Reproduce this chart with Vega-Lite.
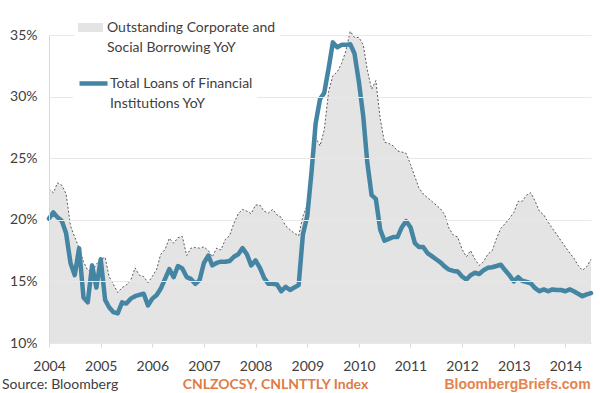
{
  "$schema": "https://vega.github.io/schema/vega-lite/v6.json",
  "width": 542,
  "height": 308,
  "autosize": {"type": "none"},
  "padding": {"left": 49, "top": 35, "right": 9, "bottom": 50},
  "background": "white",
  "title": {
    "text": "Source: Bloomberg",
    "orient": "bottom",
    "anchor": "start",
    "frame": "group",
    "dx": -47,
    "dy": -13,
    "offset": 0,
    "font": "Lato",
    "fontSize": 14,
    "fontWeight": "normal",
    "color": "#404040"
  },
  "config": {
    "view": {"stroke": null},
    "style": {"guide-label": {"lineHeight": 20}}
  },
  "data": {"values": [
    {"date":"2004-01-01","borrowing":22.5,"loans":20.1},
    {"date":"2004-02-01","borrowing":22.2,"loans":20.6},
    {"date":"2004-03-01","borrowing":23.0,"loans":20.2},
    {"date":"2004-04-01","borrowing":22.8,"loans":19.9},
    {"date":"2004-05-01","borrowing":22.1,"loans":18.9},
    {"date":"2004-06-01","borrowing":19.5,"loans":16.5},
    {"date":"2004-07-01","borrowing":18.6,"loans":15.5},
    {"date":"2004-08-01","borrowing":17.7,"loans":17.7},
    {"date":"2004-09-01","borrowing":16.6,"loans":13.7},
    {"date":"2004-10-01","borrowing":15.9,"loans":13.3},
    {"date":"2004-11-01","borrowing":15.8,"loans":16.3},
    {"date":"2004-12-01","borrowing":16.4,"loans":14.5},
    {"date":"2005-01-01","borrowing":16.8,"loans":16.8},
    {"date":"2005-02-01","borrowing":16.95,"loans":13.5},
    {"date":"2005-03-01","borrowing":15.4,"loans":12.9},
    {"date":"2005-04-01","borrowing":14.75,"loans":12.5},
    {"date":"2005-05-01","borrowing":14.1,"loans":12.4},
    {"date":"2005-06-01","borrowing":14.5,"loans":13.3},
    {"date":"2005-07-01","borrowing":14.7,"loans":13.2},
    {"date":"2005-08-01","borrowing":15.1,"loans":13.6},
    {"date":"2005-09-01","borrowing":16.1,"loans":13.8},
    {"date":"2005-10-01","borrowing":15.5,"loans":13.9},
    {"date":"2005-11-01","borrowing":15.4,"loans":14.0},
    {"date":"2005-12-01","borrowing":14.9,"loans":13.05},
    {"date":"2006-01-01","borrowing":15.4,"loans":13.6},
    {"date":"2006-02-01","borrowing":16.0,"loans":13.9},
    {"date":"2006-03-01","borrowing":17.2,"loans":14.4},
    {"date":"2006-04-01","borrowing":17.6,"loans":15.2},
    {"date":"2006-05-01","borrowing":18.5,"loans":16.0},
    {"date":"2006-06-01","borrowing":18.1,"loans":15.35},
    {"date":"2006-07-01","borrowing":18.55,"loans":16.25},
    {"date":"2006-08-01","borrowing":18.65,"loans":16.05},
    {"date":"2006-09-01","borrowing":17.1,"loans":15.35},
    {"date":"2006-10-01","borrowing":17.7,"loans":15.2},
    {"date":"2006-11-01","borrowing":17.75,"loans":14.8},
    {"date":"2006-12-01","borrowing":17.7,"loans":15.1},
    {"date":"2007-01-01","borrowing":17.8,"loans":16.5},
    {"date":"2007-02-01","borrowing":17.5,"loans":17.1},
    {"date":"2007-03-01","borrowing":17.0,"loans":16.3},
    {"date":"2007-04-01","borrowing":17.7,"loans":16.5},
    {"date":"2007-05-01","borrowing":17.55,"loans":16.6},
    {"date":"2007-06-01","borrowing":18.4,"loans":16.6},
    {"date":"2007-07-01","borrowing":18.7,"loans":16.65},
    {"date":"2007-08-01","borrowing":19.7,"loans":17.0},
    {"date":"2007-09-01","borrowing":20.5,"loans":17.2},
    {"date":"2007-10-01","borrowing":20.85,"loans":17.7},
    {"date":"2007-11-01","borrowing":20.7,"loans":17.2},
    {"date":"2007-12-01","borrowing":20.5,"loans":16.3},
    {"date":"2008-01-01","borrowing":21.2,"loans":16.7},
    {"date":"2008-02-01","borrowing":21.2,"loans":16.1},
    {"date":"2008-03-01","borrowing":20.7,"loans":15.3},
    {"date":"2008-04-01","borrowing":20.55,"loans":14.8},
    {"date":"2008-05-01","borrowing":20.85,"loans":14.8},
    {"date":"2008-06-01","borrowing":20.4,"loans":14.75},
    {"date":"2008-07-01","borrowing":20.2,"loans":14.2},
    {"date":"2008-08-01","borrowing":19.5,"loans":14.55},
    {"date":"2008-09-01","borrowing":19.2,"loans":14.3},
    {"date":"2008-10-01","borrowing":18.9,"loans":14.5},
    {"date":"2008-11-01","borrowing":18.7,"loans":14.7},
    {"date":"2008-12-01","borrowing":20.3,"loans":18.8},
    {"date":"2009-01-01","borrowing":21.2,"loans":20.3},
    {"date":"2009-02-01","borrowing":23.8,"loans":24.0},
    {"date":"2009-03-01","borrowing":26.7,"loans":27.8},
    {"date":"2009-04-01","borrowing":26.0,"loans":29.8},
    {"date":"2009-05-01","borrowing":27.3,"loans":30.3},
    {"date":"2009-06-01","borrowing":30.4,"loans":32.3},
    {"date":"2009-07-01","borrowing":31.7,"loans":34.4},
    {"date":"2009-08-01","borrowing":32.0,"loans":34.0},
    {"date":"2009-09-01","borrowing":32.7,"loans":34.2},
    {"date":"2009-10-01","borrowing":33.7,"loans":34.2},
    {"date":"2009-11-01","borrowing":35.3,"loans":34.25},
    {"date":"2009-12-01","borrowing":34.8,"loans":33.5},
    {"date":"2010-01-01","borrowing":34.8,"loans":31.2},
    {"date":"2010-02-01","borrowing":34.2,"loans":28.4},
    {"date":"2010-03-01","borrowing":32.2,"loans":24.7},
    {"date":"2010-04-01","borrowing":30.6,"loans":22.0},
    {"date":"2010-05-01","borrowing":31.3,"loans":21.7},
    {"date":"2010-06-01","borrowing":28.2,"loans":19.2},
    {"date":"2010-07-01","borrowing":26.3,"loans":18.3},
    {"date":"2010-08-01","borrowing":26.2,"loans":18.45},
    {"date":"2010-09-01","borrowing":26.0,"loans":18.6},
    {"date":"2010-10-01","borrowing":25.6,"loans":18.6},
    {"date":"2010-11-01","borrowing":25.5,"loans":19.4},
    {"date":"2010-12-01","borrowing":25.4,"loans":19.9},
    {"date":"2011-01-01","borrowing":24.5,"loans":19.4},
    {"date":"2011-02-01","borrowing":23.5,"loans":18.1},
    {"date":"2011-03-01","borrowing":22.6,"loans":17.8},
    {"date":"2011-04-01","borrowing":22.1,"loans":17.8},
    {"date":"2011-05-01","borrowing":21.8,"loans":17.3},
    {"date":"2011-06-01","borrowing":21.5,"loans":17.05},
    {"date":"2011-07-01","borrowing":21.2,"loans":16.8},
    {"date":"2011-08-01","borrowing":20.9,"loans":16.55},
    {"date":"2011-09-01","borrowing":20.4,"loans":16.2},
    {"date":"2011-10-01","borrowing":19.3,"loans":15.95},
    {"date":"2011-11-01","borrowing":18.75,"loans":15.85},
    {"date":"2011-12-01","borrowing":18.6,"loans":15.8},
    {"date":"2012-01-01","borrowing":17.6,"loans":15.4},
    {"date":"2012-02-01","borrowing":17.0,"loans":15.15},
    {"date":"2012-03-01","borrowing":17.5,"loans":15.5},
    {"date":"2012-04-01","borrowing":16.8,"loans":15.7},
    {"date":"2012-05-01","borrowing":16.3,"loans":15.6},
    {"date":"2012-06-01","borrowing":16.6,"loans":15.9},
    {"date":"2012-07-01","borrowing":17.2,"loans":16.1},
    {"date":"2012-08-01","borrowing":17.5,"loans":16.15},
    {"date":"2012-09-01","borrowing":18.5,"loans":16.25},
    {"date":"2012-10-01","borrowing":19.3,"loans":16.35},
    {"date":"2012-11-01","borrowing":19.7,"loans":15.9},
    {"date":"2012-12-01","borrowing":20.1,"loans":15.5},
    {"date":"2013-01-01","borrowing":20.6,"loans":15.0},
    {"date":"2013-02-01","borrowing":21.5,"loans":15.35},
    {"date":"2013-03-01","borrowing":21.5,"loans":15.05},
    {"date":"2013-04-01","borrowing":22.0,"loans":14.95},
    {"date":"2013-05-01","borrowing":22.2,"loans":14.85},
    {"date":"2013-06-01","borrowing":21.5,"loans":14.45},
    {"date":"2013-07-01","borrowing":20.7,"loans":14.2},
    {"date":"2013-08-01","borrowing":20.4,"loans":14.35},
    {"date":"2013-09-01","borrowing":19.8,"loans":14.2},
    {"date":"2013-10-01","borrowing":19.3,"loans":14.35},
    {"date":"2013-11-01","borrowing":18.8,"loans":14.3},
    {"date":"2013-12-01","borrowing":18.3,"loans":14.3},
    {"date":"2014-01-01","borrowing":17.8,"loans":14.2},
    {"date":"2014-02-01","borrowing":17.3,"loans":14.35},
    {"date":"2014-03-01","borrowing":16.9,"loans":14.2},
    {"date":"2014-04-01","borrowing":16.3,"loans":14.0},
    {"date":"2014-05-01","borrowing":15.9,"loans":13.8},
    {"date":"2014-06-01","borrowing":16.2,"loans":13.95},
    {"date":"2014-07-01","borrowing":16.8,"loans":14.05}
  ]},
  "encoding": {
    "x": {
      "field": "date",
      "type": "temporal",
      "scale": {
        "type": "utc",
        "domain": [{"year": 2004, "month": 1, "date": 1, "utc": true}, {"year": 2014, "month": 7, "date": 1, "utc": true}]
      },
      "axis": {
        "title": "CNLZOCSY, CNLNTTLY Index",
        "titleColor": "#e07b45",
        "titleFont": "Lato",
        "titleFontSize": 14,
        "titleFontWeight": "bold",
        "titleX": 226,
        "titleY": 41,
        "titleAlign": "center",
        "titleBaseline": "middle",
        "titleAnchor": null,
        "format": "%Y",
        "values": [
          {"year": 2004, "utc": true}, {"year": 2005, "utc": true}, {"year": 2006, "utc": true},
          {"year": 2007, "utc": true}, {"year": 2008, "utc": true}, {"year": 2009, "utc": true},
          {"year": 2010, "utc": true}, {"year": 2011, "utc": true}, {"year": 2012, "utc": true},
          {"year": 2013, "utc": true}, {"year": 2014, "utc": true}
        ],
        "grid": false,
        "domainColor": "#d9d9d9",
        "tickColor": "#d9d9d9",
        "tickSize": 4,
        "labelFont": "Lato",
        "labelFontSize": 14,
        "labelColor": "#404040",
        "labelPadding": 12,
        "labelFlush": false,
        "labelOverlap": false
      }
    }
  },
  "layer": [
    {
      "mark": {"type": "area", "interpolate": "linear"},
      "encoding": {
        "y": {
          "field": "borrowing",
          "type": "quantitative",
          "scale": {"domain": [10, 35], "nice": false, "zero": false},
          "axis": {
            "values": [10, 15, 20, 25, 30, 35],
            "labelExpr": "datum.value + '%'",
            "title": "BloombergBriefs.com",
            "titleAngle": 0,
            "titleX": 468,
            "titleY": 349,
            "titleAlign": "center",
            "titleBaseline": "middle",
            "titleAnchor": null,
            "titleFont": "Liberation Sans",
            "titleFontSize": 14,
            "titleFontWeight": "bold",
            "titleColor": "#e5834e",
            "grid": true,
            "gridColor": "#e8e8e8",
            "gridWidth": 1,
            "ticks": false,
            "domain": true,
            "domainColor": "#d9d9d9",
            "labelFont": "Lato",
            "labelFontSize": 14,
            "labelColor": "#404040",
            "labelPadding": 12,
            "zindex": 1
          }
        },
        "y2": {"datum": 10},
        "fill": {
          "datum": "Outstanding Corporate and Social Borrowing YoY",
          "type": "nominal",
          "scale": {"range": ["#e4e4e4"]},
          "legend": {
            "orient": "none",
            "legendX": 25,
            "legendY": -24,
            "padding": 4,
            "fillColor": "white",
            "title": null,
            "symbolType": "M-1,-0.36L1,-0.36L1,0.36L-1,0.36Z",
            "symbolSize": 625,
            "symbolStrokeWidth": 0,
            "labelExpr": "['Outstanding Corporate and', 'Social Borrowing YoY']",
            "labelFont": "Lato",
            "labelFontSize": 14,
            "labelColor": "#404040",
            "labelLimit": 0,
            "labelOffset": 4,
            "zindex": 2
          }
        }
      }
    },
    {
      "mark": {"type": "line", "color": "#5a5a5a", "strokeWidth": 1, "strokeDash": [2, 2]},
      "encoding": {
        "y": {"field": "borrowing", "type": "quantitative"}
      }
    },
    {
      "mark": {"type": "line", "strokeWidth": 4.5, "strokeJoin": "round", "strokeCap": "round"},
      "encoding": {
        "y": {"field": "loans", "type": "quantitative"},
        "stroke": {
          "datum": "Total Loans of Financial Institutions YoY",
          "type": "nominal",
          "scale": {"range": ["#4585a4"]},
          "legend": {
            "orient": "none",
            "legendX": 24,
            "legendY": 28,
            "padding": 4,
            "fillColor": "white",
            "title": null,
            "symbolType": "stroke",
            "symbolSize": 784,
            "symbolStrokeWidth": 4.5,
            "labelExpr": "['Total Loans of Financial', 'Institutions YoY']",
            "labelFont": "Lato",
            "labelFontSize": 14,
            "labelColor": "#404040",
            "labelLimit": 0,
            "labelOffset": 0,
            "zindex": 2
          }
        }
      }
    }
  ]
}
